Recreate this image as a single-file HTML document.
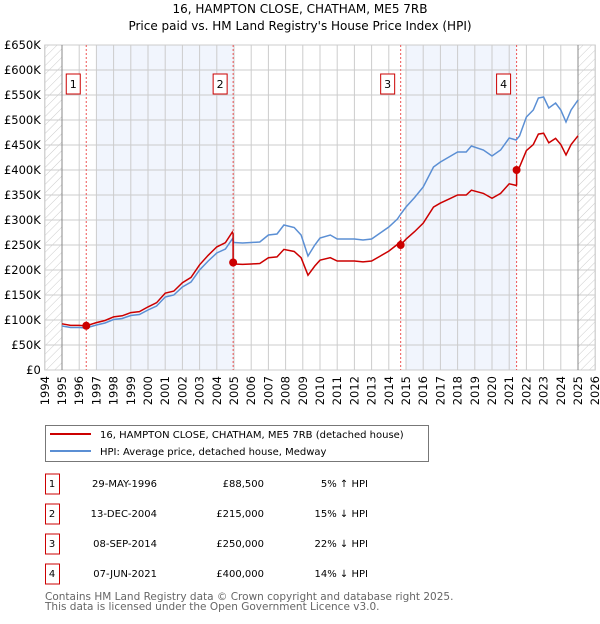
<!DOCTYPE html>
<html><head><meta charset="utf-8"><style>
body{margin:0;background:#fff;width:600px;height:620px;overflow:hidden;font-family:"DejaVu Sans","Liberation Sans",sans-serif}
svg text{font-family:"DejaVu Sans","Liberation Sans",sans-serif}
</style></head><body>
<svg id="chart" width="600" height="620" xmlns="http://www.w3.org/2000/svg">
<defs><pattern id="hatch" width="6" height="6" patternUnits="userSpaceOnUse" patternTransform="rotate(45)"><line x1="0" y1="0" x2="0" y2="6" stroke="#ccc" stroke-width="1"/></pattern></defs>
<text x="300" y="13" text-anchor="middle" font-size="12">16, HAMPTON CLOSE, CHATHAM, ME5 7RB</text>
<text x="300" y="30" text-anchor="middle" font-size="12">Price paid vs. HM Land Registry's House Price Index (HPI)</text>
<g id="plot"></g>
<g>
<rect x="45.5" y="425.5" width="383" height="36" fill="#fff" stroke="#777"/>
<line x1="50" y1="434" x2="91" y2="434" stroke="#cc0000" stroke-width="2"/>
<text x="100" y="438" font-size="10">16, HAMPTON CLOSE, CHATHAM, ME5 7RB (detached house)</text>
<line x1="50" y1="451" x2="91" y2="451" stroke="#5b8fd4" stroke-width="2"/>
<text x="100" y="455" font-size="10">HPI: Average price, detached house, Medway</text>
</g>
<g id="table" font-size="10"></g>
<text x="45" y="600" font-size="10.5" fill="#666">Contains HM Land Registry data © Crown copyright and database right 2025.</text>
<text x="45" y="610" font-size="10.5" fill="#666">This data is licensed under the Open Government Licence v3.0.</text>
</svg>
<script>
const hpiYears=[1995.0,1995.5,1996.0,1996.4,1997.0,1997.5,1998.0,1998.5,1999.0,1999.5,2000.0,2000.5,2001.0,2001.5,2002.0,2002.5,2003.0,2003.5,2004.0,2004.5,2004.9,2005.0,2005.5,2006.0,2006.5,2007.0,2007.5,2007.9,2008.5,2008.9,2009.3,2009.7,2010.0,2010.6,2011.0,2011.5,2012.0,2012.5,2013.0,2013.5,2014.0,2014.5,2014.7,2015.0,2015.5,2016.0,2016.6,2017.0,2017.5,2018.0,2018.5,2018.8,2019.5,2020.0,2020.5,2021.0,2021.4,2021.6,2022.0,2022.4,2022.7,2023.0,2023.3,2023.7,2024.0,2024.3,2024.6,2025.0];
const hpiValues=[88,85,85,84,90,94,101,103,109,111,120,128,146,150,166,176,200,218,234,242,262,255,254,255,256,270,272,290,285,270,228,250,264,270,262,262,262,260,262,274,286,302,312,326,345,366,406,416,426,436,436,448,440,428,440,464,460,468,506,520,544,546,524,534,520,496,520,540];
const saleYears=[1996.41,2004.95,2014.69,2021.43];
const salePrices=[88.5,215,250,400];
const saleLabels=["1","2","3","4"];
const saleDates=["29-MAY-1996","13-DEC-2004","08-SEP-2014","07-JUN-2021"];
const salePriceText=["£88,500","£215,000","£250,000","£400,000"];
const saleHpiText=["5% ↑ HPI","15% ↓ HPI","22% ↓ HPI","14% ↓ HPI"];
const preRatio=1.05;
const yTicks=[0,50,100,150,200,250,300,350,400,450,500,550,600,650];
const yTickLabels=["£0","£50K","£100K","£150K","£200K","£250K","£300K","£350K","£400K","£450K","£500K","£550K","£600K","£650K"];
const xTicks=[1994,1995,1996,1997,1998,1999,2000,2001,2002,2003,2004,2005,2006,2007,2008,2009,2010,2011,2012,2013,2014,2015,2016,2017,2018,2019,2020,2021,2022,2023,2024,2025,2026];

const NS="http://www.w3.org/2000/svg";
const X0=44.8,X1=595.2,Y0=370,Y1=45;
const x=v=>X0+(v-1994)/(2026-1994)*(X1-X0);
const y=v=>Y0-(v/650)*(Y0-Y1);
const plot=document.getElementById('plot');
function mk(tag,at,parent){const e=document.createElementNS(NS,tag);for(const k in at)e.setAttribute(k,at[k]);(parent||plot).appendChild(e);return e;}
function hpiAt(t){for(let i=0;i<hpiYears.length-1;i++){if(t<=hpiYears[i+1]){const f=(t-hpiYears[i])/(hpiYears[i+1]-hpiYears[i]);return hpiValues[i]+f*(hpiValues[i+1]-hpiValues[i]);}}return hpiValues[hpiValues.length-1];}

let bg=mk('rect',{x:X0,y:Y1,width:X1-X0,height:Y0-Y1,fill:'#fff'});


[[1997,saleYears[1]],[2015,saleYears[3]]].forEach((p,i)=>{
 const r=mk('rect',{x:x(p[0]),y:Y1,width:x(p[1])-x(p[0]),height:Y0-Y1,fill:'#f1f5fd'});
 
 
});
let h1=mk('rect',{x:X0,y:Y1,width:x(1995)-X0,height:Y0-Y1,fill:'url(#hatch)'});


let h2=mk('rect',{x:x(2025),y:Y1,width:X1-x(2025),height:Y0-Y1,fill:'url(#hatch)'});


yTicks.forEach((v,i)=>{
 const l=mk('line',{x1:X0,x2:X1,y1:y(v),y2:y(v),stroke:'#ccc','stroke-width':1});
 
 
 const t=mk('text',{x:X0-4,y:y(v)+4,'text-anchor':'end','font-size':11.5});
 t.textContent=yTickLabels[i];
 
 
});
xTicks.forEach(v=>{
 const l=mk('line',{x1:x(v),x2:x(v),y1:Y1,y2:Y0,stroke:'#ccc','stroke-width':1});
 
 
 const t=mk('text',{x:0,y:0,'font-size':11.5,'text-anchor':'end',transform:`translate(${x(v)+4},${Y0+6}) rotate(-90)`});
 t.textContent=v;
 
 
});
let b=mk('rect',{x:X0,y:Y1,width:X1-X0,height:Y0-Y1,fill:'none',stroke:'#ccc'});


[1995,2025].forEach(v=>{const l=mk('line',{x1:x(v),x2:x(v),y1:Y1,y2:Y0,stroke:'#888','stroke-width':1});
 
 });
saleYears.forEach((s,i)=>{
 const l=mk('line',{x1:x(s),x2:x(s),y1:Y1,y2:Y0,stroke:'#e55','stroke-width':1,'stroke-dasharray':'2,2'});
 
 
 const bx=mk('rect',{x:x(s)-20,y:74,width:14,height:20,fill:'#fff',stroke:'#cc0000'});
 
 
 const t=mk('text',{x:x(s)-13,y:88,'text-anchor':'middle','font-size':11});
 t.textContent=saleLabels[i];
 
 
});
let d='';hpiYears.forEach((t,i)=>{d+=(i?'L':'M')+x(t).toFixed(1)+','+y(hpiValues[i]).toFixed(1);});
const hl=mk('path',{d,fill:'none',stroke:'#5b8fd4','stroke-width':1.5});


function ratioAt(t){let r=preRatio;for(let i=0;i<saleYears.length;i++){if(t>=saleYears[i])r=salePrices[i]/hpiAt(saleYears[i]);}return r;}
const pts=[];
hpiYears.forEach(t=>pts.push(t));
saleYears.forEach(t=>{pts.push(t-0.001);pts.push(t);});
pts.sort((a,b)=>a-b);
let d2='';pts.forEach((t,i)=>{d2+=(i?'L':'M')+x(t).toFixed(1)+','+y(hpiAt(t)*ratioAt(t)).toFixed(1);});
const pl=mk('path',{d:d2,fill:'none',stroke:'#cc0000','stroke-width':1.5});


saleYears.forEach((s,i)=>{
 const c=mk('circle',{cx:x(s),cy:y(salePrices[i]),r:4,fill:'#cc0000'});
 
 
});
const tb=document.getElementById('table');
saleYears.forEach((s,i)=>{
 const yy=483+i*30;
 const r=mk('rect',{x:45.5,y:yy-9,width:14,height:20,fill:'#fff',stroke:'#cc0000'},tb);
 
 
 const cells=[[52,saleLabels[i],'middle'],[157,saleDates[i],'end'],[264,salePriceText[i],'end'],[368,saleHpiText[i],'end']];
 cells.forEach(c=>{const t=mk('text',{x:c[0],y:yy+4,'text-anchor':c[2]},tb);t.textContent=c[1];
  
  });
});
</script>
</body></html>
